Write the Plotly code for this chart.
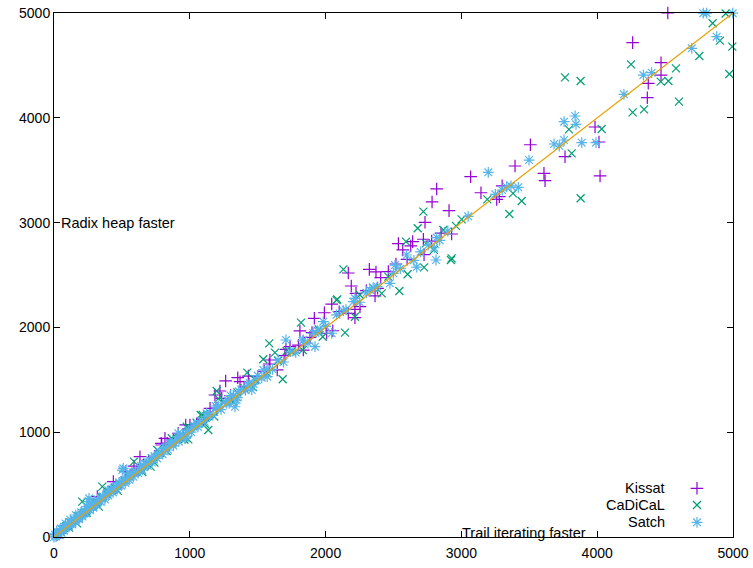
import plotly.graph_objects as go

# ---------------- data ----------------
kissat_x = [4520, 4261, 4470, 4470, 4376, 4369, 3984, 4013, 4021,
            3068, 3144, 3260, 3279, 3395, 3508, 3608, 3616, 3763,
            2818, 2784, 2909, 2732, 2720, 2781, 2928, 2641, 2627, 2536, 2568, 2725, 2518,
            2322, 2371, 2462, 2406, 2167, 2189, 2383, 2364, 2224, 2045, 2253, 2216, 1991,
            2167, 1917, 2216, 1811, 2053, 2008, 1738, 1836, 1708, 1885, 1590, 1585, 1644,
            1264, 1353, 1370, 1431, 1222, 1235, 1185, 1149, 1001, 915, 817, 793, 879, 834,
            790, 633, 589, 528, 437, 319, 970,
            20, 45, 70, 100, 130, 160, 190, 230, 260, 290, 340, 380, 410, 460, 500, 560,
            610, 660, 700, 740, 850, 900, 950, 1050, 1100, 1200, 1300, 1400, 1500, 1550,
            1700, 1800, 1900, 2100, 2300, 2600, 2850, 3300]
kissat_y = [5000, 4717, 4526, 4408, 4329, 4192, 3912, 3769, 3445,
            3438, 3285, 3222, 3248, 3540, 3743, 3470, 3400, 3629,
            3321, 3197, 3114, 3003, 2841, 2824, 2891, 2818, 2777, 2799, 2739, 2694, 2605,
            2554, 2529, 2532, 2474, 2519, 2395, 2373, 2300, 2325, 2223, 2198, 2172, 2140,
            2134, 2087, 2093, 1966, 1968, 1944, 1816, 1784, 1791, 1905, 1689, 1651, 1594,
            1489, 1520, 1482, 1536, 1393, 1323, 1355, 1228, 1069, 990, 942, 878, 932, 894,
            894, 766, 677, 623, 528, 385, 1069,
            25, 40, 80, 110, 125, 175, 200, 245, 270, 300, 360, 395, 430, 475, 520, 590,
            640, 690, 720, 770, 870, 930, 980, 1080, 1120, 1230, 1350, 1430, 1530, 1580,
            1730, 1830, 1950, 2150, 2350, 2650, 2900, 3350]

cadical_x = [4946, 4850, 4904, 4995, 4973, 4752, 4580, 4249, 4468, 4524, 4602, 4261, 4345,
             4033, 3763, 3878, 3792, 3812, 3878, 3380, 3444, 3353, 3191, 3002, 2960, 2928,
             2720, 2678, 2867, 2592, 2739, 2798, 2923, 2725, 2604, 2131, 2462, 2543, 2413,
             2086, 2253, 2216, 1819, 2143, 1979, 1713, 1831, 1585, 1627, 1541, 1423, 1684,
             1571, 1198, 1210, 1095, 1112, 1136, 977, 989, 867, 1080, 761, 712, 589, 356,
             208, 2081, 1465, 1350,
             30, 60, 90, 120, 150, 180, 220, 250, 280, 310, 350, 390, 420, 450, 480, 520,
             550, 600, 640, 680, 720, 780, 820, 870, 920, 1000, 1050, 1150, 1250, 1300,
             1400, 1480, 1650, 1750, 1950, 2350,
             40, 110, 170, 240, 330, 400, 470, 560, 650, 740, 830, 960, 1180, 1320]
cadical_y = [4995, 4902, 4736, 4679, 4418, 4590, 4472, 4510, 4345, 4351, 4154, 4052, 4081,
             3893, 4386, 4351, 3890, 3661, 3232, 3279, 3206, 3082, 3222, 3031, 2968, 2658,
             3105, 2946, 2929, 2818, 2802, 2739, 2643, 2573, 2507, 2554, 2484, 2347, 2325,
             2268, 2309, 2102, 2045, 1950, 1911, 1775, 1784, 1848, 1759, 1696, 1568, 1505,
             1562, 1393, 1320, 1164, 1078, 1021, 1053, 932, 942, 1164, 830, 671, 719, 480,
             337, 2261, 1430, 1380,
             40, 70, 100, 140, 160, 200, 230, 270, 300, 330, 380, 410, 450, 470, 510, 540,
             580, 620, 660, 700, 750, 800, 860, 890, 950, 1040, 1090, 1180, 1290, 1310,
             1420, 1500, 1680, 1770, 1980, 2380,
             20, 90, 130, 230, 290, 430, 440, 590, 620, 710, 820, 930, 1150, 1290]

satch_x = [4781, 4806, 4998, 4880, 4696, 4340, 4401, 4197, 3756, 3837, 3844, 3756, 3886,
           3991, 3682, 3721, 3498, 3198, 3333, 3365, 3419, 2818, 2840, 2756, 2800, 2813,
           2597, 2671, 2511, 2499, 2474, 2327, 2350, 2300, 2216, 2205, 2131, 1983, 1950,
           1909, 2045, 1836, 1708, 1922, 1541, 1570, 1493, 1456, 1345, 1300, 1333, 1272,
           1190, 1124, 1026, 915, 854, 805, 503, 258, 510, 253, 970,
           0, 8, 15, 25, 35, 45, 55, 65, 75, 90, 100, 110, 125, 135, 150, 160, 175, 185,
           200, 210, 225, 235, 250, 265, 275, 290, 300, 315, 330, 345, 360, 375, 390, 400,
           420, 435, 450, 465, 480, 495, 510, 525, 540, 555, 570, 585, 600, 620, 635, 650,
           670, 690, 705, 720, 740, 760, 780, 800, 820, 840, 860, 880, 900, 920, 945, 965,
           990, 1010, 1035, 1060, 1085, 1110, 1140, 1170, 1200, 1230, 1260, 1290, 1320,
           1350, 1380, 1410, 1440, 1470, 1500, 1530, 1570, 1610, 1650, 1690, 1740, 1780,
           1830, 1870, 1940, 2000, 2080, 2150, 2250, 2380, 2550, 2650, 2700, 2900, 3050,
           3250, 3300,
           20, 50, 85, 120, 160, 200, 240, 280, 320, 360, 400, 440, 480, 520, 560, 600,
           640, 680, 720, 770, 820, 870, 930, 990, 1060, 1130, 1210, 1280, 1360, 1430]
satch_y = [4998, 4998, 4998, 4774, 4663, 4408, 4431, 4224, 3963, 4017, 3938, 3788, 3763,
           3763, 3750, 3731, 3597, 3480, 3343, 3350, 3337, 2857, 2830, 2786, 2760, 2643,
           2691, 2576, 2595, 2516, 2421, 2357, 2380, 2330, 2277, 2245, 2160, 2055, 1960,
           1944, 1944, 1880, 1880, 1816, 1594, 1530, 1499, 1403, 1307, 1350, 1243, 1275,
           1250, 1180, 1053, 990, 894, 846, 639, 369, 655, 337, 942,
           0, 20, 5, 30, 20, 55, 40, 80, 60, 95, 120, 95, 140, 120, 165, 145, 190, 170,
           215, 195, 250, 225, 270, 255, 300, 280, 330, 305, 350, 335, 385, 360, 420, 395,
           445, 425, 480, 455, 510, 490, 535, 515, 570, 545, 600, 575, 625, 610, 660, 640,
           700, 680, 735, 710, 770, 750, 810, 790, 850, 830, 895, 870, 930, 910, 975, 955,
           1020, 1000, 1060, 1050, 1110, 1100, 1165, 1160, 1230, 1215, 1290, 1275, 1350,
           1330, 1410, 1400, 1470, 1460, 1540, 1520, 1600, 1600, 1690, 1670, 1770, 1760,
           1870, 1850, 1970, 2010, 2120, 2170, 2240, 2390, 2560, 2640, 2720, 2920, 3060,
           3270, 3310,
           55, 80, 130, 165, 210, 235, 290, 310, 360, 390, 445, 470, 520, 545, 605, 625,
           680, 700, 755, 795, 850, 895, 960, 1015, 1080, 1150, 1250, 1300, 1390, 1450]

diag = [0, 5000]
ticks = [0, 1000, 2000, 3000, 4000, 5000]
names = ["Kissat", "CaDiCaL", "Satch"]
colors = ["#9400d3", "#009e73", "#56b4e9"]
symbols = ["cross-thin", "x-thin", "asterisk"]
sizes = [9, 8, 9]
series = [(kissat_x, kissat_y), (cadical_x, cadical_y), (satch_x, satch_y)]

FONT = "Liberation Sans, Arial, sans-serif"

fig = go.Figure()
for i, (xs, ys) in enumerate(series):
    mk = dict(symbol=symbols[i], size=sizes[i], color=colors[i],
              line=dict(color=colors[i], width=1.2))
    fig.add_trace(go.Scatter(x=xs, y=ys, mode="markers", name=names[i], marker=mk,
                             showlegend=False, cliponaxis=False))

fig.add_trace(go.Scatter(x=diag, y=diag, mode="lines", line=dict(color="#e69f00", width=1.2),
                         showlegend=False, hoverinfo="skip"))

# legend symbols (one legend per entry, text supplied as annotations to the left)
leg_rows = [0.0929, 0.0611, 0.0280]
legend_ids = ["legend", "legend2", "legend3"]
for i in range(3):
    mk = dict(symbol=symbols[i], size=sizes[i], color=colors[i],
              line=dict(color=colors[i], width=1.2))
    fig.add_trace(go.Scatter(x=[None], y=[None], mode="markers", name=" ", marker=mk,
                             showlegend=True, legend=legend_ids[i]))

layout_legends = {}
for i, lid in enumerate(legend_ids):
    layout_legends[lid] = dict(x=0.9175, xanchor="left", y=leg_rows[i], yanchor="middle",
                               bgcolor="rgba(0,0,0,0)", font=dict(size=10, family=FONT),
                               itemwidth=30)

annotations = [
    dict(x=0, y=3000, xref="x", yref="y", text="Radix heap faster", showarrow=False,
         xanchor="left", yanchor="middle", xshift=5, font=dict(family=FONT, size=14.5, color="black")),
    dict(x=3000, y=0, xref="x", yref="y", text="Trail iterating faster", showarrow=False,
         xanchor="left", yanchor="middle", xshift=-1, yshift=4,
         font=dict(family=FONT, size=14.5, color="black")),
]
for i in range(3):
    annotations.append(dict(x=0.9028, y=leg_rows[i], xref="paper", yref="paper", text=names[i],
                            showarrow=False, xanchor="right", yanchor="middle",
                            font=dict(family=FONT, size=14.5, color="black")))

axis_common = dict(range=[0, 5000], tickvals=ticks, ticktext=[str(t) for t in ticks],
                   ticks="inside", ticklen=6, tickwidth=1, tickcolor="black",
                   showline=True, linecolor="black", linewidth=1, mirror="ticks",
                   showgrid=False, zeroline=False, automargin=False,
                   tickfont=dict(family=FONT, size=14, color="black"))

fig.update_layout(
    width=753, height=568,
    margin=dict(l=54, r=20, t=13, b=31),
    plot_bgcolor="white", paper_bgcolor="white",
    xaxis=dict(**axis_common, ticklabelstandoff=3),
    yaxis=dict(**axis_common, ticklabelstandoff=0),
    annotations=annotations,
    font=dict(family=FONT, size=14, color="black"),
    **layout_legends,
)

fig.write_html("out.html")
